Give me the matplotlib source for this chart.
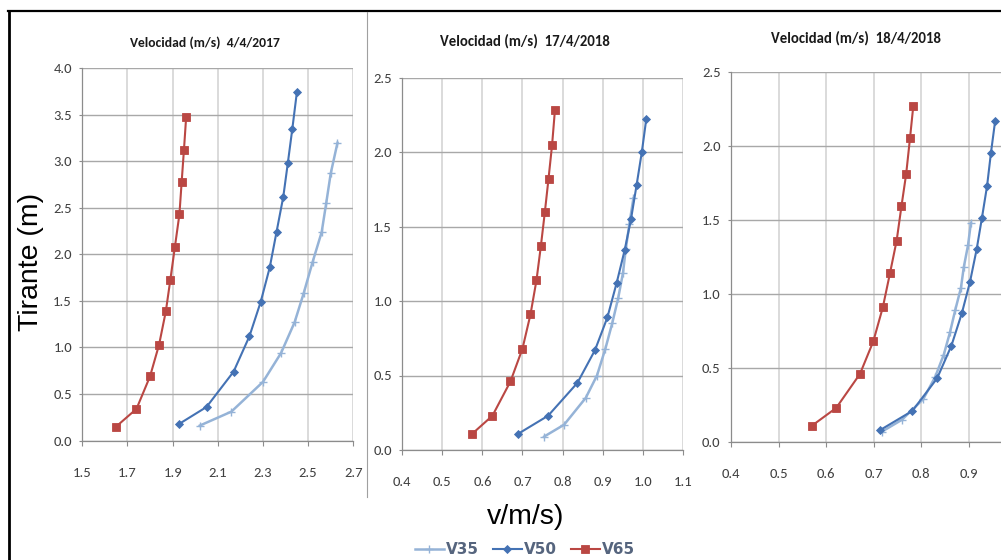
import matplotlib
matplotlib.use("Agg")
import matplotlib.pyplot as plt
from matplotlib.lines import Line2D

W, H, DPI = 1001, 560, 100

fechas = ["4/4/2017", "17/4/2018", "18/4/2018"]
series = ["V35", "V50", "V65"]

# --- 4/4/2017 ---
tirante_v35_a = [0.16, 0.31, 0.63, 0.94, 1.27, 1.58, 1.92, 2.24, 2.55, 2.87, 3.20]
vel_v35_a = [2.02, 2.16, 2.30, 2.38, 2.44, 2.48, 2.52, 2.56, 2.58, 2.60, 2.63]
tirante_v50_a = [0.18, 0.36, 0.74, 1.12, 1.49, 1.86, 2.24, 2.62, 2.98, 3.35, 3.74]
vel_v50_a = [1.93, 2.05, 2.17, 2.24, 2.29, 2.33, 2.36, 2.39, 2.41, 2.43, 2.45]
tirante_v65_a = [0.15, 0.34, 0.69, 1.03, 1.39, 1.73, 2.08, 2.43, 2.78, 3.12, 3.48]
vel_v65_a = [1.65, 1.74, 1.80, 1.84, 1.87, 1.89, 1.91, 1.93, 1.94, 1.95, 1.96]

# --- 17/4/2018 ---
tirante_v35_b = [0.09, 0.17, 0.35, 0.50, 0.68, 0.85, 1.02, 1.19, 1.35, 1.52, 1.69]
vel_v35_b = [0.754, 0.804, 0.858, 0.886, 0.907, 0.924, 0.939, 0.951, 0.958, 0.967, 0.977]
tirante_v50_b = [0.11, 0.23, 0.45, 0.67, 0.89, 1.12, 1.34, 1.55, 1.78, 2.00, 2.22]
vel_v50_b = [0.690, 0.764, 0.837, 0.881, 0.912, 0.935, 0.955, 0.971, 0.985, 0.998, 1.009]
tirante_v65_b = [0.11, 0.23, 0.46, 0.68, 0.91, 1.14, 1.37, 1.60, 1.82, 2.05, 2.28]
vel_v65_b = [0.575, 0.625, 0.670, 0.700, 0.720, 0.735, 0.746, 0.756, 0.765, 0.774, 0.781]

# --- 18/4/2018 ---
tirante_v35_c = [0.07, 0.15, 0.29, 0.44, 0.59, 0.74, 0.89, 1.04, 1.18, 1.33, 1.48]
vel_v35_c = [0.717, 0.759, 0.804, 0.829, 0.847, 0.860, 0.871, 0.883, 0.889, 0.898, 0.904]
tirante_v50_c = [0.08, 0.21, 0.43, 0.65, 0.87, 1.08, 1.30, 1.51, 1.73, 1.95, 2.17]
vel_v50_c = [0.713, 0.781, 0.833, 0.863, 0.885, 0.902, 0.916, 0.927, 0.938, 0.946, 0.955]
tirante_v65_c = [0.11, 0.23, 0.46, 0.68, 0.91, 1.14, 1.36, 1.59, 1.81, 2.05, 2.27]
vel_v65_c = [0.570, 0.621, 0.671, 0.699, 0.719, 0.734, 0.748, 0.758, 0.768, 0.776, 0.783]

xticks_a = [1.5, 1.7, 1.9, 2.1, 2.3, 2.5, 2.7]
yticks_a = [0.0, 0.5, 1.0, 1.5, 2.0, 2.5, 3.0, 3.5, 4.0]
xticks_b = [0.4, 0.5, 0.6, 0.7, 0.8, 0.9, 1.0, 1.1]
yticks_b = [0.0, 0.5, 1.0, 1.5, 2.0, 2.5]
xticks_c = [0.4, 0.5, 0.6, 0.7, 0.8, 0.9]
yticks_c = [0.0, 0.5, 1.0, 1.5, 2.0, 2.5]

CALIBRI = ["Carlito", "DejaVu Sans"]
ARIAL = ["Liberation Sans", "DejaVu Sans"]
plt.rcParams["font.family"] = CALIBRI

C35, C50, C65 = "#95B3D7", "#4472B4", "#BA4743"
styles = {
    "V35": dict(color=C35, lw=1.8, marker="+", ms=6, mew=1.0),
    "V50": dict(color=C50, lw=1.5, marker="D", ms=3.8, mew=0.6),
    "V65": dict(color=C65, lw=1.5, marker="s", ms=5.5, mew=0.6),
}

fig = plt.figure(figsize=(W / DPI, H / DPI), dpi=DPI)


def px_box(x0, x1, ytop, ybot):
    return [x0 / W, 1 - ybot / H, (x1 - x0) / W, (ybot - ytop) / H]


panels = [
    dict(box=px_box(82.3, 353.3, 68.3, 440.5), xlim=(1.5, 2.7), ylim=(0, 4.0),
         xt=xticks_a, yt=yticks_a, title_xy=(204.5, 43), title_size=9.8,
         data=[(vel_v35_a, tirante_v35_a), (vel_v50_a, tirante_v50_a), (vel_v65_a, tirante_v65_a)]),
    dict(box=px_box(402.3, 682.7, 77.5, 450.0), xlim=(0.4, 1.1), ylim=(0, 2.5),
         xt=xticks_b, yt=yticks_b, title_xy=(525, 41), title_size=10.6,
         data=[(vel_v35_b, tirante_v35_b), (vel_v50_b, tirante_v50_b), (vel_v65_b, tirante_v65_b)]),
    dict(box=px_box(731.0, 1001.0, 71.7, 442.0), xlim=(0.4, 0.9672), ylim=(0, 2.5),
         xt=xticks_c, yt=yticks_c, title_xy=(856, 38), title_size=10.6,
         data=[(vel_v35_c, tirante_v35_c), (vel_v50_c, tirante_v50_c), (vel_v65_c, tirante_v65_c)]),
]

legend_handles = None
for fecha, p in zip(fechas, panels):
    ax = fig.add_axes(p["box"])
    ax.set_xlim(*p["xlim"])
    ax.set_ylim(*p["ylim"])
    ax.set_xticks(p["xt"])
    ax.set_yticks(p["yt"])
    ax.xaxis.set_major_formatter(plt.FormatStrFormatter("%.1f"))
    ax.yaxis.set_major_formatter(plt.FormatStrFormatter("%.1f"))
    ax.set_axisbelow(True)
    ax.yaxis.grid(True, color="#a8a8a8", lw=1.0)
    ax.xaxis.grid(True, color="#dadada", lw=1.4)
    for side in ("top", "right"):
        ax.spines[side].set_visible(False)
    for side in ("left", "bottom"):
        ax.spines[side].set_color("#8c8c8c")
        ax.spines[side].set_linewidth(0.9)
    ax.tick_params(axis="y", direction="out", length=2.5, width=0.8, color="#8c8c8c",
                   pad=5, labelsize=10.5, labelcolor="#404040")
    ax.tick_params(axis="x", direction="out", length=3.5, width=0.8, color="#8c8c8c",
                   pad=15.5, labelsize=10.5, labelcolor="#404040")
    handles = []
    for name, (v, h) in zip(series, p["data"]):
        ln, = ax.plot(v, h, label=name, clip_on=False, **styles[name])
        handles.append(ln)
    if legend_handles is None:
        legend_handles = handles
    fig.text(p["title_xy"][0] / W, 1 - p["title_xy"][1] / H,
             f"Velocidad (m/s)  {fecha}", ha="center", va="center",
             fontsize=p["title_size"], fontweight="bold", color="#1a1a1a")

# axis captions
fig.text(31 / W, 1 - 262 / H, "Tirante (m)", rotation=90, ha="center", va="center",
         fontsize=20.5, family=ARIAL, color="#000000")
fig.text(526 / W, 1 - 517 / H, "v/m/s)", ha="center", va="center",
         fontsize=20.5, family=ARIAL, color="#000000")

fig.legend(legend_handles, series, loc="center", bbox_to_anchor=(525 / W, 1 - 550 / H),
           ncol=3, frameon=False, handlelength=1.9, handletextpad=0.15,
           columnspacing=0.9, labelcolor="#56657e",
           prop=dict(family=["DejaVu Sans"], weight="bold", size=11))

# frame lines around the composite
fig.add_artist(Line2D([8 / W, 1], [1 - 11 / H, 1 - 11 / H], transform=fig.transFigure,
                      color="black", lw=1.6))
fig.add_artist(Line2D([8.5 / W, 8.5 / W], [0, 1 - 11 / H], transform=fig.transFigure,
                      color="black", lw=2.0))
fig.add_artist(Line2D([366.7 / W, 366.7 / W], [1 - 497 / H, 1 - 12 / H], transform=fig.transFigure,
                      color="#a0a0a0", lw=0.8))

fig.savefig("out.png", dpi=DPI)
